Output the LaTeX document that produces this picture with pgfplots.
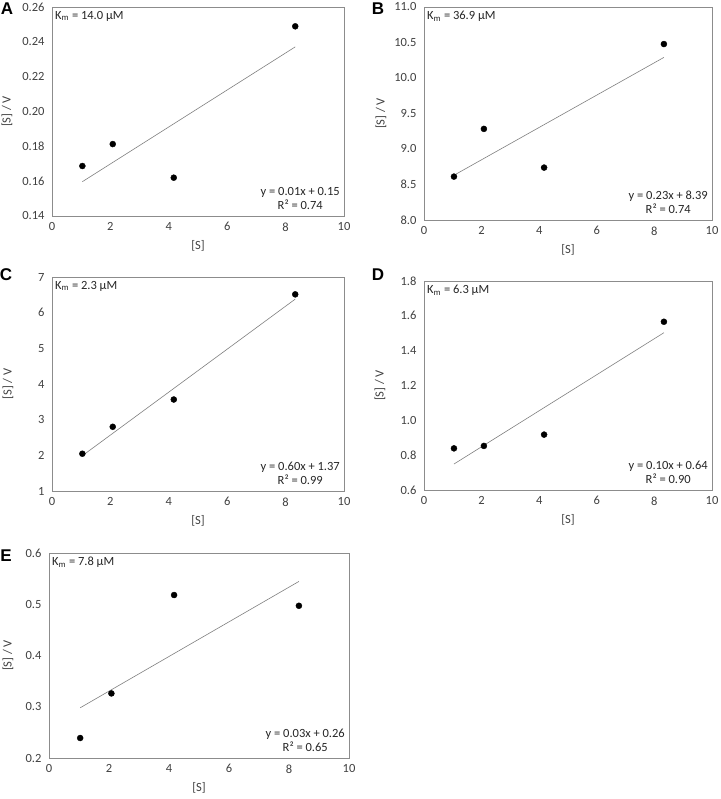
\documentclass[border=0pt]{standalone}
\usepackage{fontspec}
\setmainfont{Carlito}
\newfontfamily\letterfont{Liberation Sans}
\usepackage{pgfplots}
\pgfplotsset{compat=1.18}
\definecolor{framegray}{HTML}{8C8C8C}
\definecolor{fitgray}{HTML}{7F7F7F}
\definecolor{ticktext}{HTML}{404040}
\pgfplotsset{
  panel/.style={
    scale only axis,
    anchor=south west,
    xmin=0, xmax=10, xtick={0,2,...,10},
    major tick length=0pt,
    axis line style={framegray, line width=0.8pt},
    tick label style={font=\fontsize{12.5}{14}\selectfont, text=ticktext},
    /pgf/number format/assume math mode=true,
    xticklabel style={yshift=-3pt},
    yticklabel style={xshift=-4pt},
    xlabel={[S]}, ylabel={[S] / V},
    label style={font=\fontsize{12.5}{14}\selectfont, text=ticktext},
    xlabel style={at={([yshift=-30pt]axis description cs:0.5,0)}, anchor=center},
    ylabel style={at={([xshift=-#1pt]axis description cs:0,0.5)}, anchor=center},
    clip=false,
  },
  panel/.default=44,
  pts/.style={only marks, mark=*, mark size=3pt, black},
  fit/.style={no marks, fitgray, line width=0.6pt},
}
\newcommand{\km}[1]{\node[anchor=west, font=\fontsize{12.5}{14}\selectfont, text=black!85, inner sep=0pt] at ([xshift=3pt,yshift=-9pt]rel axis cs:0,1) {K\textsubscript{m} = #1 μM};}
\newcommand{\eqn}[2]{\node[anchor=south east, align=center, font=\fontsize{12.5}{14.5}\selectfont, text=black!85, inner sep=0pt] at ([xshift=-4pt,yshift=6pt]rel axis cs:1,0) {y = #1\\R² = #2};}
\begin{document}
\begin{tikzpicture}[x=1pt,y=1pt]
\useasboundingbox (0,0) rectangle (720,799);
% A
\begin{axis}[panel=45, at={(52pt,583pt)}, width=292pt, height=209pt,
  ymin=0.14, ymax=0.26, ytick={0.14,0.16,...,0.261},
  yticklabel style={/pgf/number format/.cd, fixed, fixed zerofill, precision=2}]
\addplot[pts] coordinates {(1.04,0.1687) (2.08,0.1813) (4.17,0.162) (8.33,0.2489)};
\addplot[fit] coordinates {(1.04,0.1597) (8.33,0.2371)};
\km{14.0}
\eqn{0.01x + 0.15}{0.74}
\end{axis}
% B
\begin{axis}[panel=43, at={(424pt,579pt)}, width=288pt, height=213pt,
  ymin=8, ymax=11, ytick={8,8.5,...,11},
  yticklabel style={/pgf/number format/.cd, fixed, fixed zerofill, precision=1}]
\addplot[pts] coordinates {(1.04,8.611) (2.08,9.283) (4.17,8.738) (8.33,10.478)};
\addplot[fit] coordinates {(1.04,8.63) (8.33,10.29)};
\km{36.9}
\eqn{0.23x + 8.39}{0.74}
\end{axis}
% C
\begin{axis}[panel=44, at={(52pt,308pt)}, width=292pt, height=214pt,
  ymin=1, ymax=7, ytick={1,2,...,7}]
\addplot[pts] coordinates {(1.04,2.045) (2.08,2.80) (4.17,3.565) (8.33,6.513)};
\addplot[fit] coordinates {(1.04,1.99) (8.33,6.38)};
\km{2.3}
\eqn{0.60x + 1.37}{0.99}
\end{axis}
% D
\begin{axis}[panel=44, at={(424pt,309pt)}, width=288pt, height=209pt,
  ymin=0.6, ymax=1.8, ytick={0.6,0.8,...,1.81},
  yticklabel style={/pgf/number format/.cd, fixed, fixed zerofill, precision=1}]
\addplot[pts] coordinates {(1.04,0.839) (2.08,0.853) (4.17,0.918) (8.33,1.566)};
\addplot[fit] coordinates {(1.04,0.749) (8.33,1.503)};
\km{6.3}
\eqn{0.10x + 0.64}{0.90}
\end{axis}
% E
\begin{axis}[panel=41, at={(49pt,41pt)}, width=300pt, height=205pt,
  ymin=0.2, ymax=0.6, ytick={0.2,0.3,...,0.61},
  yticklabel style={/pgf/number format/.cd, fixed, fixed zerofill, precision=1}]
\addplot[pts] coordinates {(1.04,0.239) (2.08,0.326) (4.17,0.518) (8.33,0.497)};
\addplot[fit] coordinates {(1.04,0.298) (8.33,0.5445)};
\km{7.8}
\eqn{0.03x + 0.26}{0.65}
\end{axis}
% panel letters
\begin{scope}[every node/.style={font=\letterfont\bfseries\fontsize{17}{19}\selectfont, inner sep=0pt}]
\node at (7,790.5) {A};
\node at (378,790.5) {B};
\node at (6,524) {C};
\node at (378,524) {D};
\node at (6,243) {E};
\end{scope}
\end{tikzpicture}
\end{document}
